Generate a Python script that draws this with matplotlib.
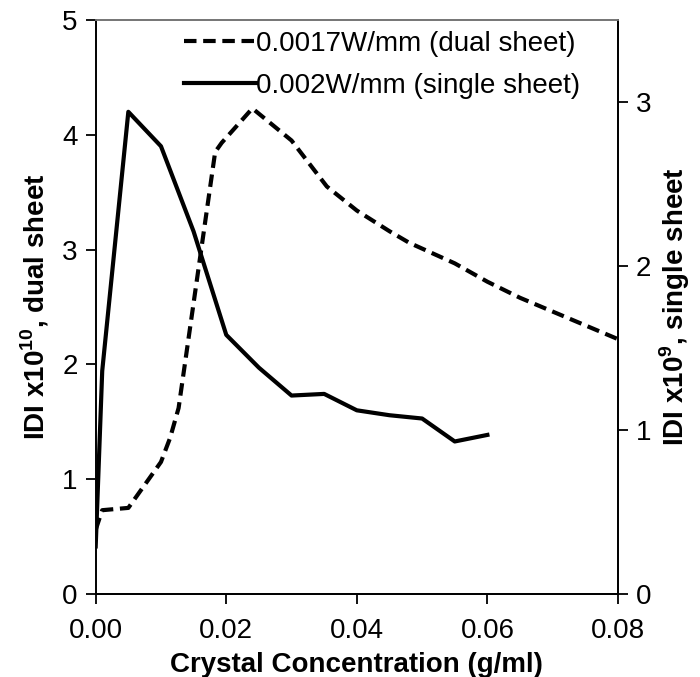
import numpy as np
import matplotlib
matplotlib.use('Agg')
import matplotlib.pyplot as plt

plt.rcParams['font.family'] = ['Liberation Sans', 'DejaVu Sans']
plt.rcParams['mathtext.fontset'] = 'custom'
plt.rcParams['mathtext.rm'] = 'Liberation Sans'
plt.rcParams['mathtext.bf'] = 'Liberation Sans:bold'

# dual sheet (left axis)
conc_dual = [0, 0.001, 0.005, 0.01, 0.0114, 0.0127, 0.0183, 0.0193, 0.024, 0.03, 0.0354,
             0.04, 0.045, 0.048, 0.055, 0.06, 0.065, 0.07, 0.075, 0.08]
idi_dual = [0.56, 0.73, 0.75, 1.15, 1.36, 1.62, 3.85, 3.93, 4.23, 3.95, 3.55,
            3.34, 3.16, 3.06, 2.88, 2.72, 2.58, 2.46, 2.34, 2.22]

# single sheet (right axis)
conc_single = [0, 0.001, 0.005, 0.01, 0.015, 0.02, 0.025, 0.03, 0.035, 0.04, 0.045, 0.05, 0.055, 0.06]
idi_single = [0.29, 1.36, 2.94, 2.73, 2.21, 1.58, 1.38, 1.21, 1.22, 1.12, 1.09, 1.07, 0.93, 0.97]

fig = plt.figure(figsize=(7, 6.77), dpi=100)
ax = fig.add_axes([0.1367, 0.1226, 0.7461, 0.8479])
ax2 = ax.twinx()

l1, = ax.plot(conc_dual, idi_dual, color='black', lw=3, ls=(0, (3, 1.6)),
              label='0.0017W/mm (dual sheet)')
l2, = ax2.plot(conc_single, idi_single, color='black', lw=3, ls='-',
               label='0.002W/mm (single sheet)')

ax.set_xlim(0, 0.08)
ax.set_ylim(0, 5)
ax2.set_ylim(0, 3.5)
ax.set_xticks([0, 0.02, 0.04, 0.06, 0.08])
ax.set_xticklabels(['0.00', '0.02', '0.04', '0.06', '0.08'])
ax.set_yticks([0, 1, 2, 3, 4, 5])
ax2.set_yticks([0, 1, 2, 3])

for a in (ax, ax2):
    a.tick_params(direction='out', length=7, width=1.3, labelsize=20, pad=6)
    for s in a.spines.values():
        s.set_linewidth(1.3)
ax.tick_params(axis='x', pad=10)
ax.spines['top'].set_color('#777777')
ax2.spines['top'].set_color('#777777')
ax.spines['left'].set_color('#333333')

ax.set_xlabel('Crystal Concentration (g/ml)', fontsize=20, fontweight='bold', labelpad=6)
ax.set_ylabel(r'IDI x10$^{\mathbf{10}}$, dual sheet', fontsize=20, fontweight='bold', labelpad=8)
ax2.set_ylabel(r'IDI x10$^{\mathbf{9}}$, single sheet', fontsize=20, fontweight='bold', labelpad=4)

ax2.legend(handles=[l1, l2], loc='upper right', bbox_to_anchor=(0.965, 1.015), frameon=False,
           fontsize=20, handlelength=2.6, handletextpad=0.0, labelspacing=0.58,
           borderaxespad=0.3)

fig.savefig('out.png', dpi=100)
